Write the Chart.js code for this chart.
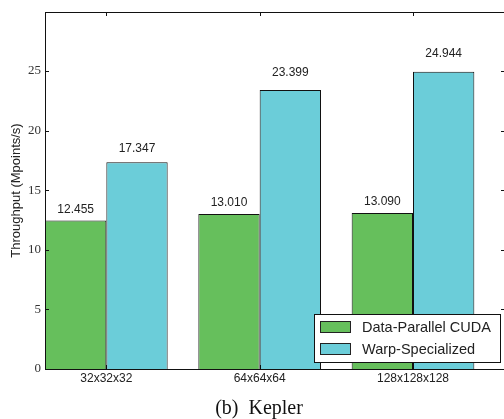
<!DOCTYPE html>
<html>
<head>
<meta charset="utf-8">
<script src="https://cdn.jsdelivr.net/npm/chart.js@4.4.1/dist/chart.umd.min.js"></script>
<style>
  body { margin: 0; overflow: hidden; background: #fff; }
  #wrap { width: 510px; height: 419px; }
</style>
</head>
<body>
<div id="wrap"><canvas id="chart"></canvas></div>
<script>
const categories = ['32x32x32', '64x64x64', '128x128x128'];
const dataParallel = [12.455, 13.010, 13.090];
const warpSpecialized = [17.347, 23.399, 24.944];
const yTicks = [0, 5, 10, 15, 20, 25];
const seriesNames = ['Data-Parallel CUDA', 'Warp-Specialized'];
const seriesColors = ['#66bf5c', '#6bcdd9'];

const toPoints = arr => arr.map((v, i) => ({ x: i + 1, y: v }));

// frame, inward ticks, value labels, legend and caption
const extras = {
    id: 'extras',
    afterDatasetsDraw(chart) {
        const ctx = chart.ctx;
        const area = chart.chartArea;
        const xs = chart.scales.x;
        const ys = chart.scales.y;
        ctx.save();

        // value labels above bars
        ctx.fillStyle = '#222';
        ctx.font = '12px "Liberation Sans", Arial, sans-serif';
        ctx.textAlign = 'center';
        ctx.textBaseline = 'middle';
        chart.data.datasets.forEach((ds, di) => {
            const meta = chart.getDatasetMeta(di);
            meta.data.forEach((bar, i) => {
                const v = ds.data[i].y;
                const y = ys.getPixelForValue(v + 0.3 + 0.05 * v);
                ctx.fillText(v.toFixed(3), bar.x, y);
            });
        });

        // box around plot
        ctx.strokeStyle = '#111';
        ctx.lineWidth = 1;
        ctx.beginPath();
        ctx.moveTo(area.left, area.top + 0.5);
        ctx.lineTo(area.right, area.top + 0.5);
        ctx.moveTo(area.right - 0.5, area.top);
        ctx.lineTo(area.right - 0.5, area.bottom);
        ctx.stroke();

        // inward ticks
        ctx.beginPath();
        yTicks.forEach(t => {
            const y = Math.round(ys.getPixelForValue(t)) + 0.5;
            ctx.moveTo(area.left, y);
            ctx.lineTo(area.left + 4, y);
            ctx.moveTo(area.right, y);
            ctx.lineTo(area.right - 4, y);
        });
        categories.forEach((c, i) => {
            const x = Math.round(xs.getPixelForValue(i + 1)) + 0.5;
            ctx.moveTo(x, area.top);
            ctx.lineTo(x, area.top + 4);
            ctx.moveTo(x, area.bottom);
            ctx.lineTo(x, area.bottom - 4);
        });
        ctx.stroke();

        // legend
        const lx = 314, ly = 314, lw = 186, lh = 48;
        ctx.fillStyle = '#fff';
        ctx.fillRect(lx, ly, lw, lh);
        ctx.strokeStyle = '#111';
        ctx.strokeRect(lx + 0.5, ly + 0.5, lw, lh);
        ctx.font = '14.5px "Liberation Sans", Arial, sans-serif';
        ctx.textAlign = 'left';
        seriesNames.forEach((name, i) => {
            const cy = ly + 13 + i * 22;
            ctx.fillStyle = seriesColors[i];
            ctx.fillRect(lx + 6, cy - 5, 30, 11);
            ctx.strokeStyle = '#222';
            ctx.strokeRect(lx + 6.5, cy - 5.5, 30, 11);
            ctx.fillStyle = '#222';
            ctx.fillText(name, lx + 48, cy + 1);
        });

        // caption
        ctx.fillStyle = '#111';
        ctx.font = '20px "Liberation Serif", "Times New Roman", serif';
        ctx.textAlign = 'center';
        ctx.fillText('(b)  Kepler', 259, 409);
        ctx.restore();
    }
};

new Chart(document.getElementById('chart'), {
    type: 'bar',
    data: {
        datasets: [
            {
                label: seriesNames[0],
                data: toPoints(dataParallel),
                backgroundColor: seriesColors[0],
                borderColor: '#111',
                borderWidth: 1
            },
            {
                label: seriesNames[1],
                data: toPoints(warpSpecialized),
                backgroundColor: seriesColors[1],
                borderColor: '#111',
                borderWidth: 1
            }
        ]
    },
    options: {
        responsive: true,
        maintainAspectRatio: false,
        animation: false,
        categoryPercentage: 0.8,
        barPercentage: 1.0,
        layout: { padding: { top: 12, right: 5, left: 0, bottom: 0 } },
        plugins: {
            legend: { display: false },
            tooltip: { enabled: false }
        },
        scales: {
            x: {
                type: 'linear',
                offset: false,
                min: 0.6,
                max: 3.6,
                afterBuildTicks: scale => {
                    scale.ticks = categories.map((c, i) => ({ value: i + 1 }));
                },
                afterFit: scale => { scale.height = 50; },
                ticks: {
                    callback: value => categories[value - 1],
                    color: '#222',
                    padding: 2,
                    maxRotation: 0,
                    autoSkip: false,
                    font: { family: '"Liberation Sans", Arial, sans-serif', size: 12 }
                },
                grid: { display: false, drawTicks: false, offset: false },
                border: { display: true, color: '#111', width: 1 }
            },
            y: {
                min: 0,
                max: 29.95,
                afterBuildTicks: scale => {
                    scale.ticks = yTicks.map(v => ({ value: v }));
                },
                afterFit: scale => { scale.width = 45; },
                ticks: {
                    color: '#333',
                    padding: 4,
                    font: { family: '"Liberation Serif", "Times New Roman", serif', size: 13 }
                },
                grid: { display: false, drawTicks: false },
                border: { display: true, color: '#111', width: 1 },
                title: {
                    display: true,
                    text: 'Throughput (Mpoints/s)',
                    color: '#222',
                    padding: { top: 9, bottom: 0 },
                    font: { family: '"Liberation Sans", Arial, sans-serif', size: 13 }
                }
            }
        }
    },
    plugins: [extras]
});
</script>
</body>
</html>
